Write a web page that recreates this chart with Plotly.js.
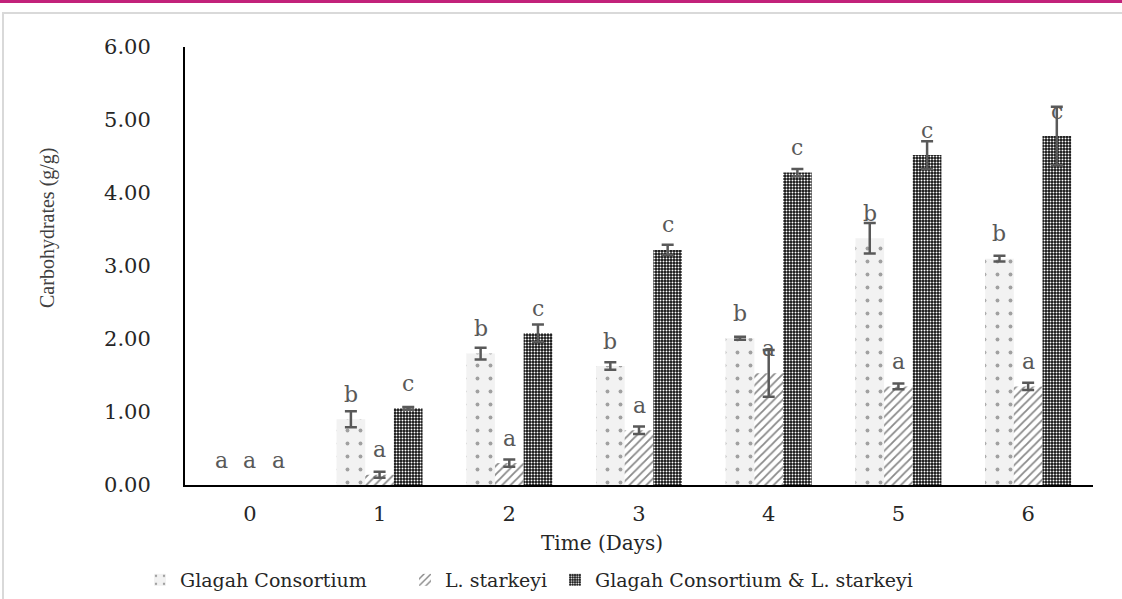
<!DOCTYPE html>
<html>
<head>
<meta charset="utf-8">
<script src="https://cdn.plot.ly/plotly-3.0.1.min.js"></script>
<style>html,body{margin:0;padding:0;background:#fff;} #chart{width:1122px;height:599px;}</style>
</head>
<body>
<div id="chart"></div>
<script>
// ---- data ----
const days = ['0', '1', '2', '3', '4', '5', '6'];
const seriesNames = ['Glagah Consortium', 'L. starkeyi', 'Glagah Consortium & L. starkeyi'];
const glagah = [0, 0.90, 1.80, 1.63, 2.01, 3.38, 3.10];
const glagahErr = [NaN, 0.11, 0.08, 0.05, 0.02, 0.21, 0.04];
const starkeyi = [0, 0.14, 0.30, 0.75, 1.53, 1.35, 1.35];
const starkeyiErr = [NaN, 0.04, 0.05, 0.05, 0.32, 0.04, 0.05];
const combined = [0, 1.05, 2.08, 3.22, 4.28, 4.52, 4.78];
const combinedErr = [NaN, 0.02, 0.12, 0.07, 0.05, 0.19, 0.40];
const glagahLetters = ['a', 'b', 'b', 'b', 'b', 'b', 'b'];
const starkeyiLetters = ['a', 'a', 'a', 'a', 'a', 'a', 'a'];
const combinedLetters = ['a', 'c', 'c', 'c', 'c', 'c', 'c'];
const yTicks = [0, 1, 2, 3, 4, 5, 6];

const SERIF = '"DejaVu Serif", "Liberation Serif", serif';
const errStyle = (arr) => ({type: 'data', array: arr, visible: true, color: '#595959', thickness: 2.5, width: 6});

const traces = [
  {type: 'bar', name: seriesNames[0], x: days, y: glagah, error_y: errStyle(glagahErr), legend: 'legend',
   marker: {color: '#f2f2f2', line: {width: 0}, pattern: {shape: '.', fgcolor: '#a0a0a0', bgcolor: '#f2f2f2', size: 13, solidity: 0.07}}},
  {type: 'bar', name: seriesNames[1], x: days, y: starkeyi, error_y: errStyle(starkeyiErr), legend: 'legend2',
   marker: {color: '#ffffff', line: {width: 0}, pattern: {shape: '/', fgcolor: '#8a8a8a', bgcolor: '#ffffff', size: 6, solidity: 0.3}}},
  {type: 'bar', name: seriesNames[2], x: days, y: combined, error_y: errStyle(combinedErr), legend: 'legend3',
   marker: {color: '#111111', line: {width: 0}, pattern: {shape: '.', fgcolor: '#ffffff', bgcolor: '#111111', size: 3, solidity: 0.35}}}
];

// letter annotations above bars
const PX_CAT = 908 / days.length;
const BARGAP = 0.337;
const barW = PX_CAT * (1 - BARGAP) / 3;
const annotations = [];
[[glagah, glagahLetters, -1], [starkeyi, starkeyiLetters, 0], [combined, combinedLetters, 1]].forEach(([vals, lets, k]) => {
  days.forEach((d, i) => {
    annotations.push({x: d, y: vals[i], xref: 'x', yref: 'y', text: lets[i], showarrow: false,
      xshift: k * barW, yshift: 25, yanchor: 'middle', font: {family: SERIF, size: 22, color: '#595959'}});
  });
});
annotations.push({xref: 'paper', yref: 'paper', x: (48 - 185) / 908, y: (485 - 228) / 438, text: 'Carbohydrates (g/g)',
  textangle: -90, showarrow: false, xanchor: 'center', yanchor: 'middle',
  font: {family: '"Liberation Serif", serif', size: 20, color: '#404040'}});
annotations.push({xref: 'paper', yref: 'paper', x: (602 - 185) / 908, y: (485 - 543) / 438, text: 'Time (Days)',
  showarrow: false, xanchor: 'center', yanchor: 'middle',
  font: {family: SERIF, size: 20, color: '#262626'}});

const legendBase = (x) => ({xref: 'container', yref: 'container', x: x, y: (599 - 580) / 599, xanchor: 'left', yanchor: 'middle',
  orientation: 'h', bgcolor: 'rgba(0,0,0,0)', itemwidth: 30,
  font: {family: SERIF, size: 19, color: '#262626'}});

const layout = {
  width: 1122, height: 599,
  margin: {l: 185, r: 29, t: 47, b: 114, pad: 0},
  paper_bgcolor: '#ffffff', plot_bgcolor: '#ffffff',
  barmode: 'group', bargap: BARGAP, bargroupgap: 0,
  showlegend: true,
  legend: legendBase(140 / 1122),
  legend2: legendBase(405 / 1122),
  legend3: legendBase(555 / 1122),
  xaxis: {type: 'category', showline: true, linecolor: '#000000', linewidth: 2, showgrid: false, zeroline: false,
    ticks: 'outside', ticklen: 9, tickcolor: 'rgba(0,0,0,0)',
    tickfont: {family: SERIF, size: 21, color: '#262626'}},
  yaxis: {range: [0, 6], tickvals: yTicks, tickformat: '.2f', showline: true, linecolor: '#000000', linewidth: 2,
    showgrid: false, zeroline: false, ticks: 'outside', ticklen: 28, tickcolor: 'rgba(0,0,0,0)',
    tickfont: {family: SERIF, size: 21, color: '#262626'}},
  annotations: annotations,
  shapes: [
    {type: 'line', xref: 'paper', yref: 'paper', x0: -0.3, x1: 1.1, y0: (485 - 1.5) / 438, y1: (485 - 1.5) / 438,
     line: {color: '#c2227a', width: 3}},
    {type: 'rect', xref: 'paper', yref: 'paper', x0: (3 - 185) / 908, x1: (1160 - 185) / 908,
     y0: (485 - 13) / 438, y1: (485 - 640) / 438, line: {color: '#d9d9d9', width: 2}, fillcolor: 'rgba(0,0,0,0)'}
  ]
};

Plotly.newPlot('chart', traces, layout, {displayModeBar: false, staticPlot: true});
</script>
</body>
</html>
